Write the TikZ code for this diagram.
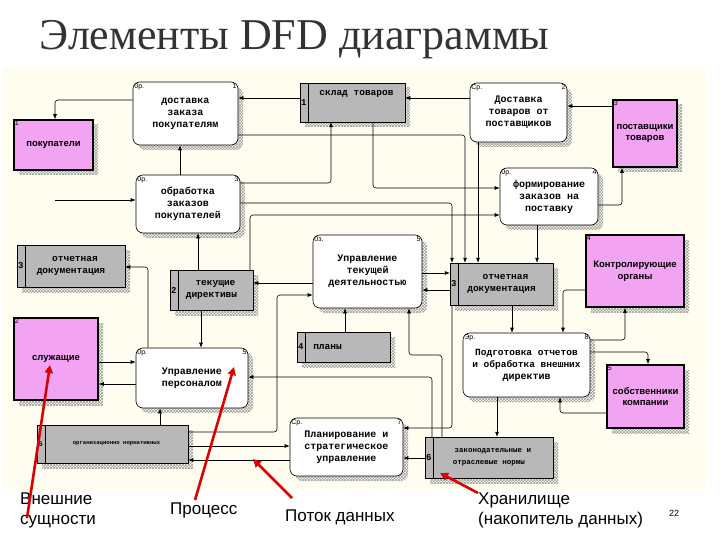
\documentclass[tikz,border=0pt]{standalone}
\usepackage{fontspec}
\setmainfont{Liberation Serif}
\newfontfamily\monof{Liberation Mono}
\newfontfamily\sansf{Liberation Sans}
\usetikzlibrary{arrows.meta,patterns,shadows}
\definecolor{cream}{HTML}{FFFDF0}
\definecolor{pinkent}{HTML}{F2A4F2}
\definecolor{storegray}{HTML}{B8B8B8}
\tikzset{
 hatch/.style={general shadow={shadow xshift=5pt,shadow yshift=-5pt,pattern=crosshatch,pattern color=gray!80}},
 proc/.style={draw,rounded corners=7pt,fill=white,line width=0.6pt,hatch,align=center,
   font=\monof\bfseries\fontsize{10}{12}\selectfont,inner sep=1pt},
 store/.style={draw,fill=storegray,line width=0.5pt,hatch,align=center,
   font=\monof\bfseries\fontsize{9.5}{11.5}\selectfont,inner sep=1pt},
 ent/.style={draw,fill=pinkent,line width=1.6pt,hatch,align=center,
   font=\sansf\bfseries\fontsize{9.5}{11.5}\selectfont,inner sep=1pt},
 tag/.style={font=\sansf\fontsize{7}{8}\selectfont,inner sep=1.5pt},
 fl/.style={line width=0.6pt,-{Latex[length=5pt,width=4pt]},rounded corners=3pt},
 redarr/.style={red!85!black,line width=2.6pt,-{Triangle[length=8pt,width=8pt]}},
 lbl/.style={font=\sansf\fontsize{17}{20}\selectfont,align=left,anchor=north west,inner sep=0pt}
}
\newcommand\Proc[8]{\node[proc,minimum width=#4,minimum height=#5] (#1) at (#2,#3) {#8};
 \node[tag,anchor=north west] (#1c) at (#1.north west) {#6};
 \node[tag,anchor=north east] (#1n) at (#1.north east) {#7};}
\newcommand\Store[7]{\node[store,minimum width=#4,minimum height=#5] (#1) at (#2,#3) {\hspace*{8pt}#7};
 \draw[line width=0.5pt] ([xshift=8pt]#1.north west) -- ([xshift=8pt]#1.south west);
 \node[font=\monof\bfseries\fontsize{9}{10}\selectfont,inner sep=0pt] (#1n) at ([xshift=4pt]#1.west) {#6};}
\newcommand\Ent[7]{\node[ent,minimum width=#4,minimum height=#5,text width=#4] (#1) at (#2,#3) {#7};
 \node[tag,anchor=north west] (#1n) at (#1.north west) {#6};}
\begin{document}
\begin{tikzpicture}[x=1pt,y=-1pt]
\useasboundingbox (0,0) rectangle (720,540);
\fill[white] (0,0) rectangle (720,540);
\fill[cream] (3,68) rectangle (706,490);
\node[anchor=west,font=\fontsize{44}{48}\selectfont,text=black!80] (title) at (36,40) {Элементы DFD диаграммы};
% processes
\Proc{p1}{185.5}{113.5}{105}{63}{0р.}{1}{доставка\\заказа\\покупателям}
\Proc{p2}{518.5}{112.5}{97}{59}{Ср.}{2}{Доставка\\товаров от\\поставщиков}
\Proc{p3}{188}{204}{104}{58}{0р.}{3}{обработка\\заказов\\покупателей}
\Proc{p4}{549}{196.5}{98}{57}{0р.}{4}{формирование\\заказов на\\поставку}
\Proc{p5}{367.5}{271.5}{109}{73}{0з.}{5}{Управление\\текущей\\деятельностью}
\Proc{p6}{192}{378}{112}{60}{0р.}{5}{Управление\\персоналом}
\Proc{p8}{526.5}{365}{127}{64}{Эр.}{8}{\fontsize{9.5}{12}\selectfont Подготовка отчетов\\\fontsize{9.5}{12}\selectfont и обработка внешних\\директив}
\Proc{p7}{346.5}{447}{113}{58}{Ср.}{7}{Планирование и\\стратегическое\\управление}
% stores
\Store{s1}{352.5}{102.5}{105}{39}{1}{склад товаров\\[8pt]}
\Store{s3l}{71}{266}{108}{42}{3}{отчетная\\документация}
\Store{s2}{211.5}{290}{83}{40}{2}{текущие\\директивы}
\Store{s3r}{501.5}{284}{103}{42}{3}{отчетная\\документация}
\Store{s4}{343.5}{347}{93}{30}{4}{планы\hspace*{40pt}}
\node[store,minimum width=151,minimum height=38] (s5) at (112.5,444) {};
\draw[line width=0.5pt] ([xshift=8pt]s5.north west) -- ([xshift=8pt]s5.south west);
\node[font=\monof\bfseries\fontsize{7}{8}\selectfont,inner sep=0pt] (s5n) at ([xshift=4pt]s5.west) {5};
\node[font=\monof\bfseries\fontsize{5.6}{7}\selectfont,inner sep=0pt] (s5t) at ([xshift=4pt]s5.center) {организационно нормативных};
\Store{s6}{489}{457.5}{128}{41}{6}{\fontsize{7.5}{11}\selectfont законодательные и\\\fontsize{7.5}{11}\selectfont отраслевые нормы}
% entities
\Ent{e1}{53.5}{145}{77}{50}{1}{покупатели\\[10pt]}
\Ent{e3}{645}{133.5}{62}{67}{3}{поставщики\\товаров\\[28pt]}
\Ent{e4}{635}{271}{96}{72}{4}{Контролирующие\\органы\\[34pt]}
\Ent{e2}{56}{359}{82}{82}{2}{служащие\\[58pt]}
\Ent{e5}{645.5}{396.5}{75}{63}{5}{собственники\\компании}
% flows
\draw[fl] (p1.west |- 0,100) -- (55,100) -- (e1.north -| 55,0);
\draw[fl] (s1.west |- 0,98) -- (p1.east |- 0,98);
\draw[fl] (p1.east |- 0,135) -- (465,135) -- (s3r.north -| 465,0);
\draw[fl] (p2.south -| 478,0) -- (s3r.north -| 478,0);
\draw[fl] (p3.east |- 0,203) -- (452,203) -- (s3r.north -| 452,0);
\draw[fl] (p4.south -| 537,0) -- (s3r.north -| 537,0);
\draw[fl] (p2.west |- 0,98) -- (s1.east |- 0,98);
\draw[fl] (e3.west |- 0,106) -- (p2.east |- 0,106);
\draw[fl] (s1.south -| 373,0) -- (373,188) -- (p4.west |- 0,188);
\draw[fl] (p3.east |- 0,183) -- (331,183) -- (s1.south -| 331,0);
\draw[fl] (s2.north -| 250,0) -- (250,215) -- (p4.west |- 0,215);
\draw[fl] (p4.east |- 0,205) -- (622,205) -- (e3.south -| 622,0);
\draw[fl] (s2.north -| 198,0) -- (p3.south -| 198,0);
\coordinate (in3) at (55,200);
\draw[fl] (in3) -- (p3.west |- in3);
\draw[fl] (p3.north -| 180,0) -- (p1.south -| 180,0);
\draw[fl] (p6.north -| 148,0) -- (148,267) -- (s3l.east |- 0,267);
\draw[fl] (p5.west |- 0,283) -- (s2.east |- 0,283);
\draw[fl] (s2.south -| 201,0) -- (p6.north -| 201,0);
\draw[fl] (s5.east |- 0,432) -- (277,432) -- (277,295) -- (p5.west |- 0,295);
\draw[fl] (s5.east |- 0,446) -- (p7.west |- 0,446);
\draw[fl] (p7.west |- 0,460) -- (s5.east |- 0,460);
\draw[fl] (s5.north -| 160,0) -- (p6.south -| 160,0);
\draw[fl] (e2.east |- 0,362) -- (p6.west |- 0,362);
\draw[fl] (p6.west |- 0,384) -- (e2.east |- 0,384);
\draw[fl] (s6.north -| 432,0) -- (432,377) -- (p6.east |- 0,377);
\draw[fl] (s6.north -| 442,0) -- (442,355) -- (409,355) -- (p5.south -| 409,0);
\draw[fl] (s4.north -| 345,0) -- (p5.south -| 345,0);
\draw[fl] (s3r.south -| 452,0) -- (452,428) -- (p7.east |- 0,428);
\draw[fl] (p5.east |- 0,273) -- (s3r.west |- 0,273);
\draw[fl] (s3r.west |- 0,290) -- (p5.east |- 0,290);
\draw[fl] (s3r.south -| 512,0) -- (p8.north -| 512,0);
\draw[fl] (e4.west |- 0,290) -- (563,290) -- (p8.north -| 563,0);
\draw[fl] (p8.east |- 0,340) -- (625,340) -- (e4.south -| 625,0);
\draw[fl] (p8.east |- 0,352) -- (648,352) -- (e5.north -| 648,0);
\draw[fl] (e5.west |- 0,413) -- (560,413) -- (p8.south -| 560,0);
\draw[fl] (s6.west |- 0,458) -- (p7.east |- 0,458);
\draw[fl] (p8.south -| 497,0) -- (s6.north -| 497,0);
% legend
\node[lbl] (l1) at (20,493) {Внешние\\сущности};
\node[lbl] (l2) at (170,503) {Процесс};
\node[lbl] (l3) at (285,510) {Поток данных};
\node[lbl] (l4) at (478,493) {Хранилище\\(накопитель данных)};
\node[font=\sansf\fontsize{9}{10}\selectfont] (pg) at (674,513) {22};
\coordinate (r1) at (27,518); \coordinate (r1e) at (50,365);
\coordinate (r2) at (195,500); \coordinate (r2e) at (234,367);
\coordinate (r3) at (292,498); \coordinate (r3e) at (253,459);
\coordinate (r4) at (478,493); \coordinate (r4e) at (440,473);
\draw[redarr] (r1) -- (r1e);
\draw[redarr] (r2) -- (r2e);
\draw[redarr] (r3) -- (r3e);
\draw[redarr] (r4) -- (r4e);
\end{tikzpicture}
\end{document}
